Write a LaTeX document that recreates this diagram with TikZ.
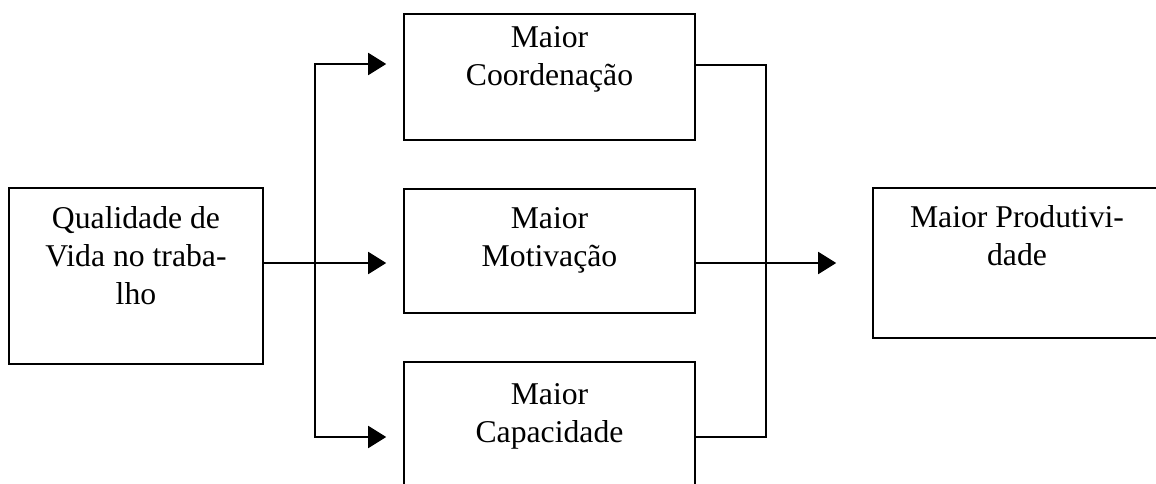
\documentclass[tikz,border=0pt]{standalone}
\usepackage{fontspec}
\setmainfont{Liberation Serif}
\usetikzlibrary{arrows.meta,calc}
\begin{document}
\begin{tikzpicture}[x=1pt,y=-1pt,
  box/.style={draw, line width=1.6pt, rectangle, inner sep=0pt},
  boxtext/.style={anchor=north, inner sep=0pt, align=center,
    font=\fontsize{31.7}{38}\selectfont},
  link/.style={line width=1.8pt},
  flow/.style={link, -{Triangle[length=18pt,width=22pt]}}
]
\useasboundingbox (0,0) rectangle (1156,484);
\clip (0,0) rectangle (1156,484);

% boxes
\node[box, minimum width=254pt, minimum height=176pt] (qv)    at (136,276)   {};
\node[box, minimum width=291pt, minimum height=126pt] (coord) at (549.5,77)  {};
\node[box, minimum width=291pt, minimum height=124pt] (motiv) at (549.5,251) {};
\node[box, minimum width=291pt, minimum height=126pt] (capac) at (549.5,425) {};
\node[box, minimum width=288pt, minimum height=150pt] (prod)  at (1017,263)  {};

% box texts (first baseline about 40pt below the top edge)
\node[boxtext] (qv-text)    at ($(qv.north)+(0,14.4)$)    {\strut Qualidade de\\Vida no traba-\\lho};
\node[boxtext] (coord-text) at ($(coord.north)+(0,7.4)$)  {\strut Maior\\Coordenação};
\node[boxtext] (motiv-text) at ($(motiv.north)+(0,13.4)$) {\strut Maior\\Motivação};
\node[boxtext] (capac-text) at ($(capac.north)+(0,16.4)$) {\strut Maior\\Capacidade};
\node[boxtext] (prod-text)  at ($(prod.north)+(0,13.4)$)  {\strut Maior Produtivi-\\dade};

% junction points
\coordinate (fork) at (315,263);
\coordinate (join) at (766,263);

% main axis
\draw[flow, shorten >=17pt] (qv.east |- prod.west) -- (motiv.west |- prod.west);
\draw[flow, shorten >=36pt] (motiv.east |- prod.west) -- (prod.west);

% fork to the upper and lower boxes
\draw[flow, shorten >=17pt] (fork) |- ([yshift=13pt]coord.west);
\draw[flow, shorten >=17pt] (fork) |- ([yshift=-12pt]capac.west);

% upper and lower boxes back into the main axis
\draw[link] ([yshift=12pt]coord.east) -| (join);
\draw[link] ([yshift=-12pt]capac.east) -| (join);
\end{tikzpicture}
\end{document}
